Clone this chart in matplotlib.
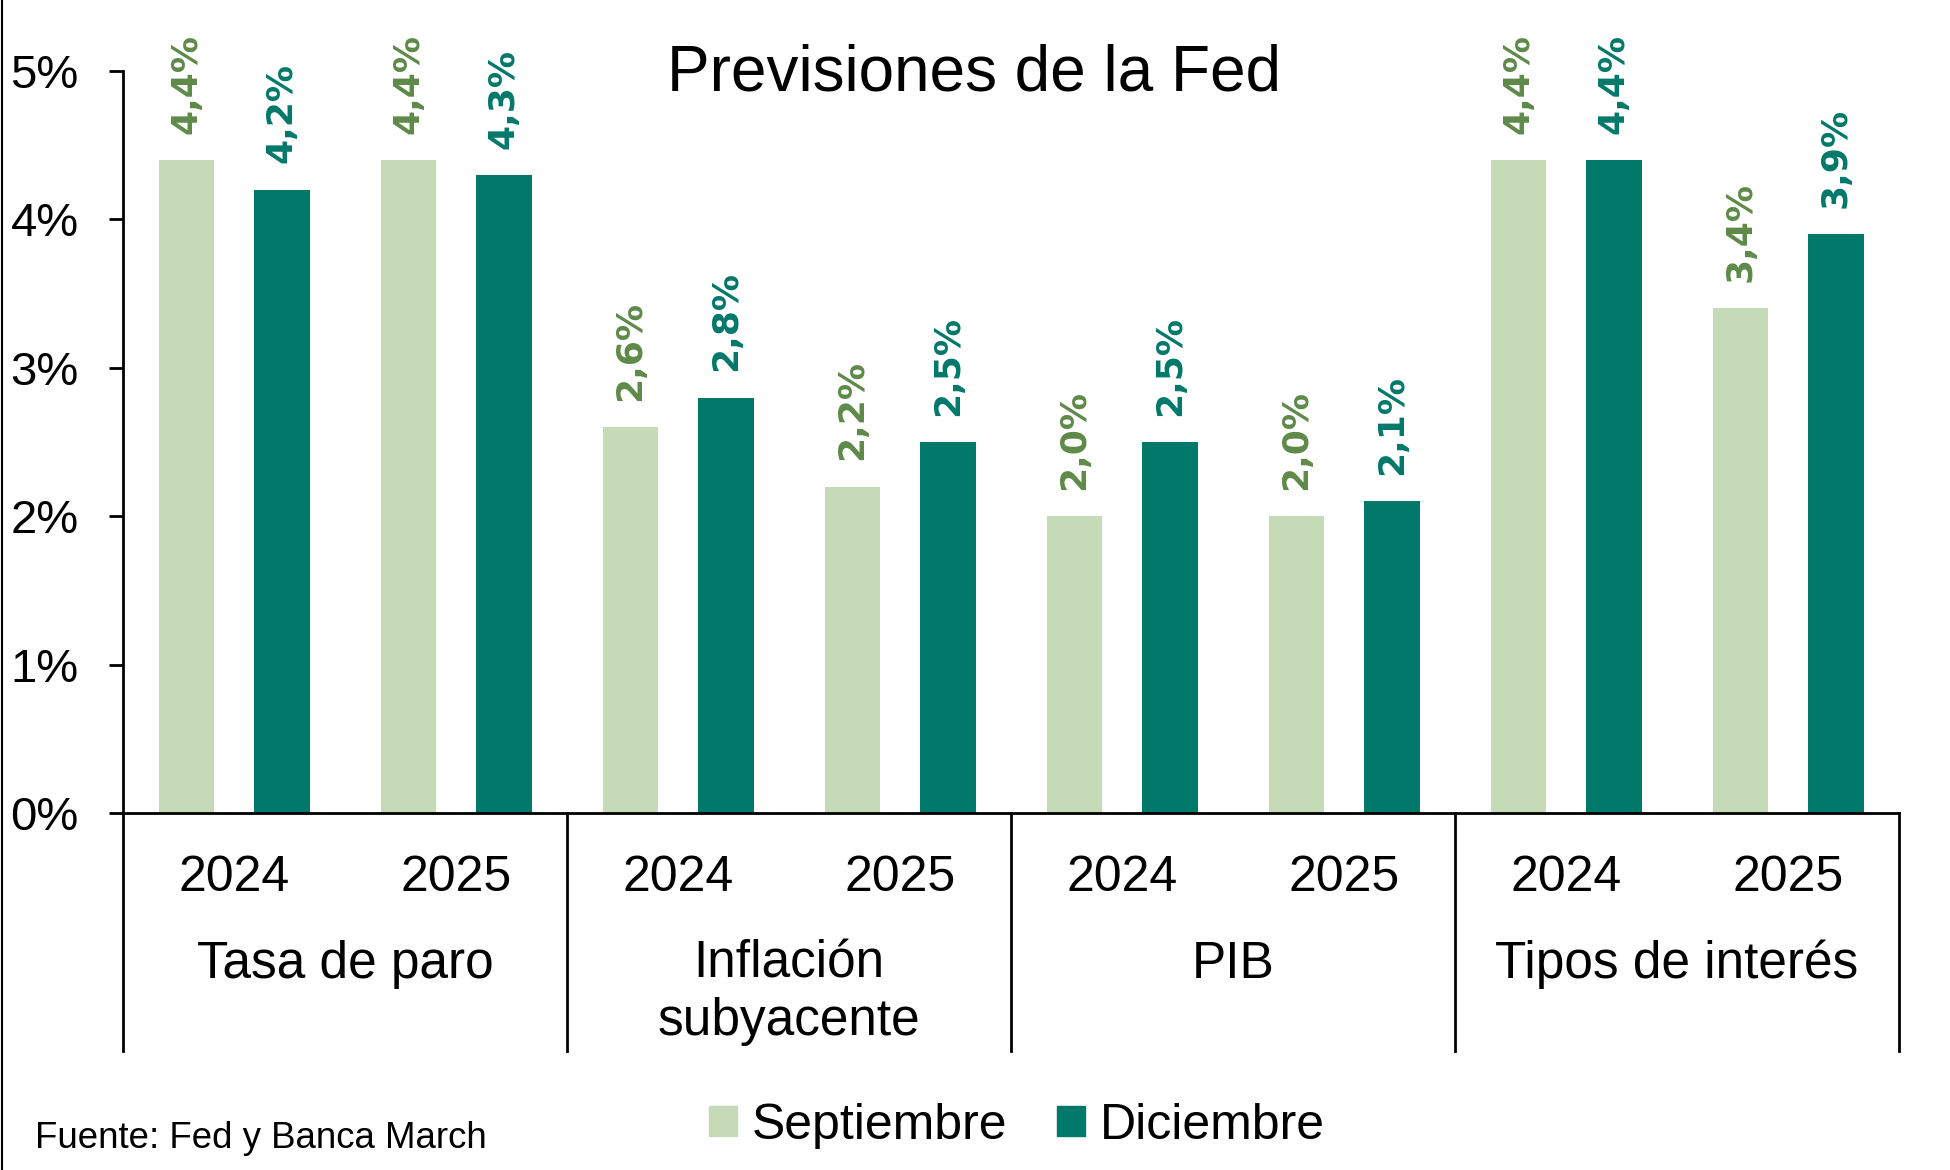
import numpy as np
import matplotlib.pyplot as plt
from matplotlib.patches import Patch
from matplotlib.lines import Line2D
import matplotlib.transforms as mtransforms

plt.rcParams["font.family"] = ["Liberation Sans", "DejaVu Sans"]

# Datos
grupos = ["Tasa de paro", "Inflación\nsubyacente", "PIB", "Tipos de interés"]
anios = ["2024", "2025"]
septiembre = [4.4, 4.4, 2.6, 2.2, 2.0, 2.0, 4.4, 3.4]
diciembre = [4.2, 4.3, 2.8, 2.5, 2.5, 2.1, 4.4, 3.9]
series = ["Septiembre", "Diciembre"]

col_sep = "#C5DBB8"
col_dic = "#00786A"
col_lab_sep = "#5E8A48"
col_lab_dic = "#00786A"

fig = plt.figure(figsize=(19.5, 11.7), dpi=100)
ax = fig.add_axes([0.0631, 0.3051, 0.9108, 0.6342])

x = np.arange(len(septiembre))
ancho = 0.25
off = 0.215
b1 = ax.bar(x - off, septiembre, ancho, color=col_sep, label=series[0])
b2 = ax.bar(x + off, diciembre, ancho, color=col_dic, label=series[1])

def etiqueta(v):
    return "{:.1f}%".format(v).replace(".", ",")

for barras, vals, col in [(b1, septiembre, col_lab_sep), (b2, diciembre, col_lab_dic)]:
    for b, v in zip(barras, vals):
        ax.annotate(etiqueta(v), (b.get_x() + b.get_width() / 2, v),
                    xytext=(0, 19), textcoords="offset points",
                    rotation=90, ha="center", va="bottom",
                    fontsize=26, fontweight="bold", color=col,
                    family="DejaVu Sans", annotation_clip=False)

ax.set_xlim(-0.5, len(septiembre) - 0.5)
ax.set_ylim(0, 5)
ax.set_yticks(range(6))
ax.set_yticklabels(["{}%".format(i) for i in range(6)])
ax.tick_params(axis="y", labelsize=34, length=10, width=2, pad=22)
ax.set_xticks([])
for s in ["top", "right"]:
    ax.spines[s].set_visible(False)
ax.spines["left"].set_linewidth(2)
ax.spines["bottom"].set_linewidth(2)

# eje de categorias en dos niveles
trans = mtransforms.blended_transform_factory(ax.transData, ax.transAxes)
for sep in np.arange(-0.5, len(septiembre), 2):
    ax.plot([sep, sep], [0, -0.3208], color="black", lw=2,
            transform=trans, clip_on=False)

for i in range(len(septiembre)):
    ax.text(i, -0.087, anios[i % 2], transform=trans, ha="center",
            va="center", fontsize=36)

for g, nombre in enumerate(grupos):
    y = -0.2425 if "\n" in nombre else -0.2035
    ax.text(2 * g + 0.5, y, nombre, transform=trans, ha="center",
            va="center", fontsize=37, linespacing=1.22)

fig.text(0.4995, 0.937, "Previsiones de la Fed", ha="center", va="center",
         fontsize=46)
fig.text(0.018, 0.027, "Fuente: Fed y Banca March", ha="left", va="center",
         fontsize=26.4)

handles = [Patch(color=col_sep), Patch(color=col_dic)]
fig.legend(handles, series, loc="center", bbox_to_anchor=(0.5216, 0.038),
           ncol=2, frameon=False, fontsize=36, handlelength=0.55,
           handleheight=0.55, handletextpad=0.3, columnspacing=1.0)

fig.add_artist(Line2D([0.0008, 0.0008], [0, 1], color="black", lw=1.5,
                      transform=fig.transFigure))

fig.savefig("out.png", dpi=100)
